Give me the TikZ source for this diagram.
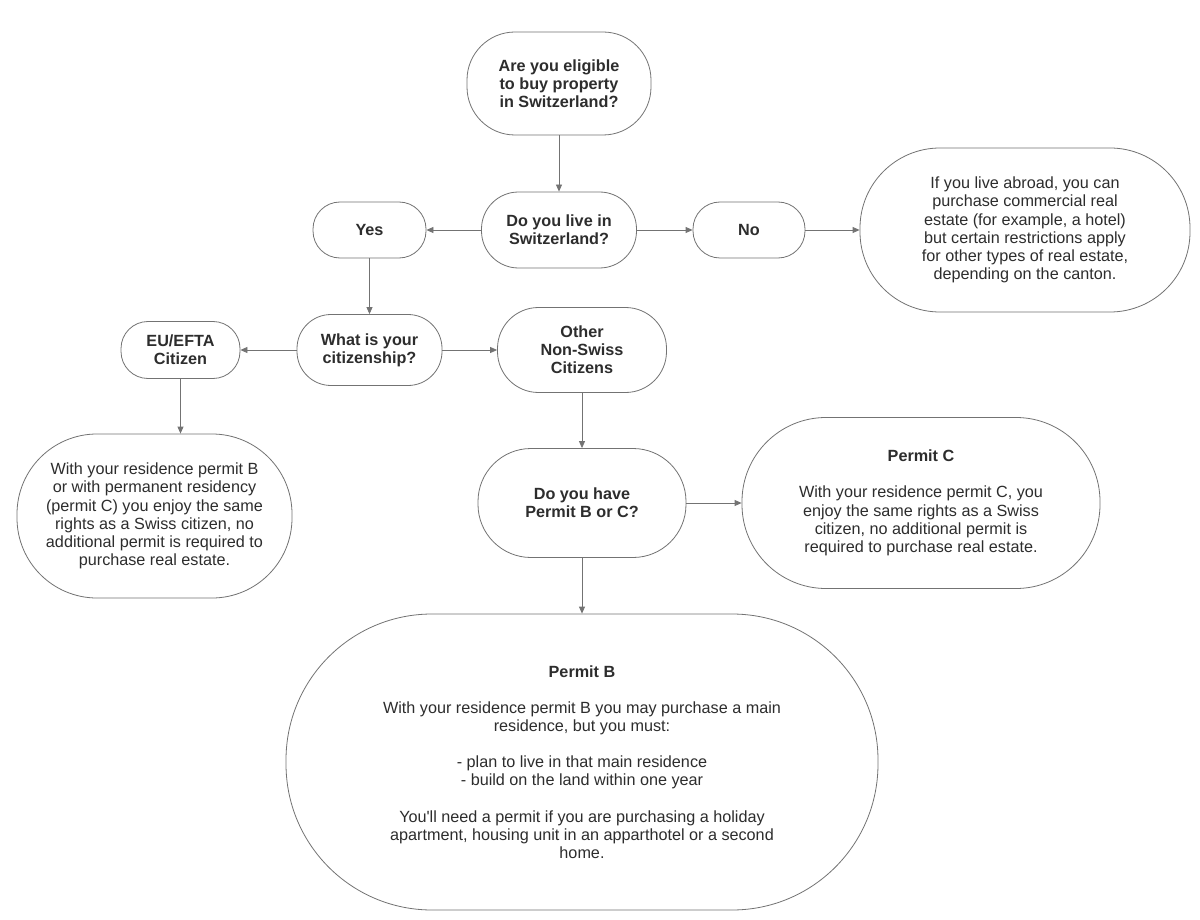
\documentclass[tikz,border=0pt]{standalone}
\usepackage{fontspec}
\setmainfont{Liberation Sans}
\usepackage{tikz}
\usetikzlibrary{positioning,arrows.meta}
\definecolor{linegray}{RGB}{115,115,115}
\definecolor{textgray}{RGB}{45,45,45}

\begin{document}
\begin{tikzpicture}[
    x=1pt, y=-1pt,
    >={Triangle[width=6pt,length=7pt]},
    boxnode/.style={draw=linegray, fill=white, line width=0.8pt, align=center, inner sep=0pt, text=textgray, font=\fontsize{16.2}{18.2}\selectfont},
    questionnode/.style={boxnode, font=\fontsize{16.2}{18.2}\selectfont\bfseries},
    link/.style={draw=linegray, line width=0.8pt, ->}
    ]
    \useasboundingbox (0,0) rectangle (1200,920);

    %Top nodes
    \node[questionnode, minimum width=184pt, minimum height=103pt, rounded corners=48pt] (eligible) at (559,83.5) {Are you eligible\\to buy property\\in Switzerland?};
    \node[questionnode, minimum width=155pt, minimum height=76pt, rounded corners=37pt] (live_in) at (559,230) {Do you live in\\Switzerland?};
    \node[questionnode, minimum width=113pt, minimum height=56pt, rounded corners=27pt] (yes) at (369.5,230) {Yes};
    \node[questionnode, minimum width=112pt, minimum height=56pt, rounded corners=27pt] (no) at (749,230) {No};
    \node[boxnode, minimum width=330pt, minimum height=164pt, rounded corners=80pt] (abroad_info) at (1025,230) {If you live abroad, you can\\purchase commercial real\\estate (for example, a hotel)\\but certain restrictions apply\\for other types of real estate,\\depending on the canton.};

    %Citizenship nodes
    \node[questionnode, minimum width=145pt, minimum height=71pt, rounded corners=34pt] (citizenship) at (369.5,350) {What is your\\citizenship?};
    \node[questionnode, minimum width=119pt, minimum height=57pt, rounded corners=27pt] (eu_citizen) at (180.5,350) {EU/EFTA\\Citizen};
    \node[questionnode, minimum width=169pt, minimum height=85pt, rounded corners=41pt] (other_citizen) at (582,350) {Other\\Non-Swiss\\Citizens};
    \node[boxnode, minimum width=275pt, minimum height=164pt, rounded corners=80pt] (eu_info) at (154.5,516) {With your residence permit B\\or with permanent residency\\(permit C) you enjoy the same\\rights as a Swiss citizen, no\\additional permit is required to\\purchase real estate.};

    %Permit nodes
    \node[questionnode, minimum width=208pt, minimum height=109pt, rounded corners=53pt] (permit_question) at (582,503) {Do you have\\Permit B or C?};
    \node[boxnode, minimum width=358pt, minimum height=171pt, rounded corners=84pt] (permit_c) at (921,503) {\textbf{Permit C}\\[18pt]With your residence permit C, you\\enjoy the same rights as a Swiss\\citizen, no additional permit is\\required to purchase real estate.};
    \node[boxnode, minimum width=592pt, minimum height=296pt, rounded corners=146pt] (permit_b) at (582,762) {\textbf{Permit B}\\[18pt]With your residence permit B you may purchase a main\\residence, but you must:\\[18pt]- plan to live in that main residence\\- build on the land within one year\\[18pt]You\textquotesingle ll need a permit if you are purchasing a holiday\\apartment, housing unit in an apparthotel or a second\\home.};

    %Lines
    \draw[link] (eligible) -- (live_in);
    \draw[link] (live_in) -- (yes);
    \draw[link] (live_in) -- (no);
    \draw[link] (no) -- (abroad_info);

    \draw[link] (yes) -- (citizenship);
    \draw[link] (citizenship) -- (eu_citizen);
    \draw[link] (citizenship) -- (other_citizen);
    \draw[link] (eu_citizen.south) -- (eu_citizen.south |- eu_info.north);

    \draw[link] (other_citizen) -- (permit_question);
    \draw[link] (permit_question) -- (permit_c);
    \draw[link] (permit_question) -- (permit_b);

    \end{tikzpicture}
\end{document}
